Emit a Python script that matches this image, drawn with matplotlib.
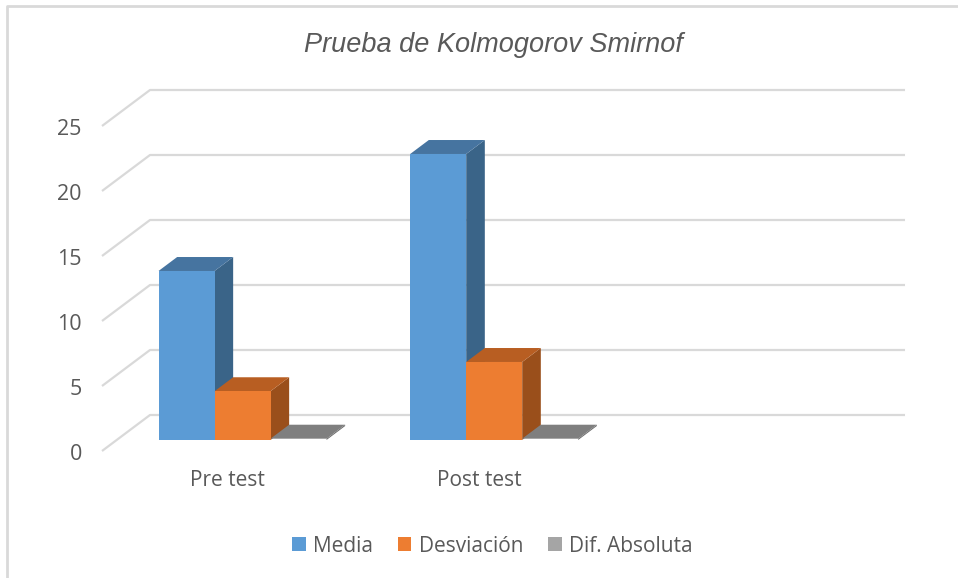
import matplotlib.pyplot as plt
from matplotlib.patches import Polygon, Rectangle
from matplotlib.lines import Line2D

# Data
categories = ["Pre test", "Post test", ""]
series_names = ["Media", "Desviación", "Dif. Absoluta"]
media = [13.0, 22.0]
desviacion = [3.75, 6.0]
dif_absoluta = [0.1, 0.1]
y_ticks = [0, 5, 10, 15, 20, 25]

values = [media, desviacion, dif_absoluta]
front_colors = ["#5B9BD5", "#ED7D31", "#A5A5A5"]
top_colors = ["#4674A0", "#B85E22", "#7F7F7F"]
side_colors = ["#3A6488", "#9A4F1B", "#6E6E6E"]

# oblique projection: full floor depth offset in data units
DX = 48 / 251.67
DY = 36 / 13.0
d0, d1 = 0.306, 0.694   # depth range occupied by bars
bar_w = 0.2225
gap = (1 - 3 * bar_w) / 2

fig = plt.figure(figsize=(9.58, 5.78), dpi=100)
ax = fig.add_axes([0, 0, 1, 1])
ax.set_xlim(-102 / 251.67, (958 - 102) / 251.67)
ax.set_ylim((451 - 578) / 13.0, 451 / 13.0)
ax.axis("off")

grid_c = "#D9D9D9"
ncat = len(categories)
for v in y_ticks:
    ax.plot([0, DX, ncat + DX], [v, v + DY, v + DY], color=grid_c, lw=1.6,
            solid_capstyle="butt", zorder=1)
    ax.text(-0.08, v - 0.3, str(v), ha="right", va="center", fontsize=15.5,
            color="#595959", family="Open Sans")


def bar3d(x0, v, k):
    ox0, oy0 = DX * d0, DY * d0
    ox1, oy1 = DX * d1, DY * d1
    xa, xb = x0 + ox0, x0 + bar_w + ox0
    ya, yb = oy0, oy0 + v
    dx, dy = ox1 - ox0, oy1 - oy0
    z = 3 + k * 0.1
    # side face
    ax.add_patch(Polygon([(xb, ya), (xb + dx, ya + dy), (xb + dx, yb + dy), (xb, yb)],
                         closed=True, fc=side_colors[k], ec="none", zorder=z))
    # top face
    ax.add_patch(Polygon([(xa, yb), (xb, yb), (xb + dx, yb + dy), (xa + dx, yb + dy)],
                         closed=True, fc=top_colors[k], ec="none", zorder=z))
    # front face
    if v > 0.3:
        ax.add_patch(Rectangle((xa, ya), bar_w, v, fc=front_colors[k], ec="none", zorder=z))


for i in range(len(media)):
    for k, ser in enumerate(values):
        bar3d(i + gap + k * bar_w, ser[i], k)

for i, lab in enumerate(categories):
    ax.text(i + 0.5, (451 - 481) / 13.0, lab, ha="center", va="center", fontsize=15,
            color="#595959", family="Open Sans")

fig.text(0.515, 1 - 45 / 578, "Prueba de Kolmogorov Smirnof", ha="center", va="center",
         fontsize=19.5, style="italic", color="#595959", family="Liberation Sans")

# legend
handles = [Rectangle((0, 0), 1, 1, fc=c, ec="none") for c in front_colors]
leg = fig.legend(handles, series_names, loc="center", bbox_to_anchor=(0.514, 1 - 546 / 578),
                 ncol=3, frameon=False, handlelength=0.65, handleheight=0.65,
                 handletextpad=0.35, columnspacing=1.2,
                 prop={"family": "Open Sans", "size": 15})
for t in leg.get_texts():
    t.set_color("#595959")

# chart border (top and left visible)
fig.add_artist(Line2D([7 / 958, 7 / 958, 1], [0, 1 - 6 / 578, 1 - 6 / 578],
                      color="#D9D9D9", lw=2, transform=fig.transFigure))

fig.savefig("out.png", dpi=100, facecolor="white")
